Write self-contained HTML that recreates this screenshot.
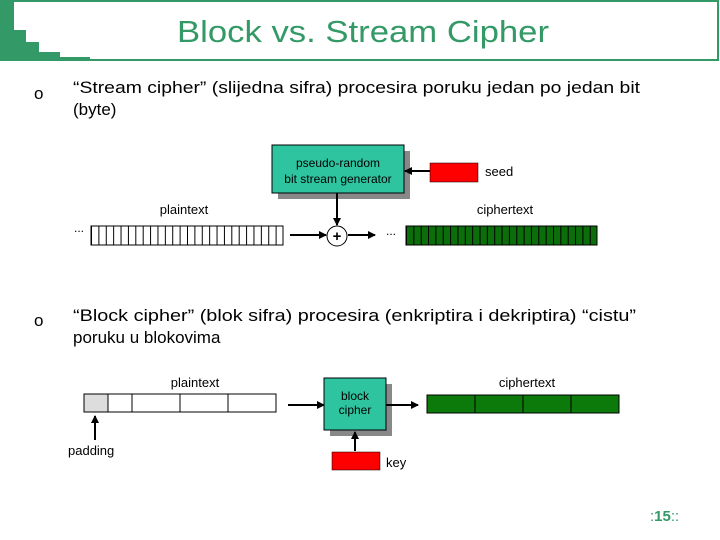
<!DOCTYPE html>
<html><head><meta charset="utf-8"><style>html,body{margin:0;padding:0;background:#fff}svg{display:block}</style></head>
<body>
<svg width="720" height="540" viewBox="0 0 720 540" xmlns="http://www.w3.org/2000/svg" font-family="Liberation Sans, sans-serif">
<defs>
<pattern id="pw" x="91" y="0" width="7.385" height="20" patternUnits="userSpaceOnUse"><rect width="7.385" height="20" fill="#fff"/><line x1="0.5" y1="0" x2="0.5" y2="20" stroke="#000" stroke-width="1"/></pattern>
<pattern id="pg" x="406" y="0" width="7.35" height="20" patternUnits="userSpaceOnUse"><rect width="7.35" height="20" fill="#0b6e0b"/><line x1="0.5" y1="0" x2="0.5" y2="20" stroke="#000" stroke-width="1"/></pattern>
<marker id="ar" markerWidth="8" markerHeight="8" refX="7" refY="4" orient="auto" markerUnits="userSpaceOnUse"><path d="M0,0 L8,4 L0,8 z" fill="#000"/></marker>
</defs>
<!-- title frame -->
<rect x="13" y="1" width="705" height="59" fill="none" stroke="#339966" stroke-width="2"/>
<path d="M0,0 H14 V30 H26 V42 H39 V52 H60 V57 H90 V61 H0 Z" fill="#339966"/>
<text x="363" y="42" font-size="31" fill="#339966" text-anchor="middle" textLength="372" lengthAdjust="spacingAndGlyphs">Block vs. Stream Cipher</text>
<!-- bullet 1 -->
<text x="34" y="99" font-size="17">o</text>
<text x="73" y="93" font-size="17" textLength="567" lengthAdjust="spacingAndGlyphs">“Stream cipher” (slijedna sifra) procesira poruku jedan po jedan bit</text>
<text x="73" y="115" font-size="17">(byte)</text>
<!-- stream diagram -->
<rect x="278" y="151" width="132" height="48" fill="#888"/>
<rect x="272" y="145" width="132" height="48" fill="#2ec4a0" stroke="#000" stroke-width="1"/>
<text x="338" y="167" font-size="12" text-anchor="middle">pseudo-random</text>
<text x="338" y="183" font-size="12" text-anchor="middle">bit stream generator</text>
<rect x="430" y="163" width="48" height="19" fill="#f00" stroke="#000" stroke-width="0.5"/>
<text x="485" y="176" font-size="13">seed</text>
<line x1="430" y1="171" x2="405" y2="171" stroke="#000" stroke-width="2" marker-end="url(#ar)"/>
<text x="184" y="214" font-size="13" text-anchor="middle">plaintext</text>
<text x="505" y="214" font-size="13" text-anchor="middle">ciphertext</text>
<text x="74" y="232" font-size="12">...</text>
<rect x="91" y="226" width="192" height="19" fill="url(#pw)" stroke="#000"/>
<line x1="290" y1="235" x2="326" y2="235" stroke="#000" stroke-width="2" marker-end="url(#ar)"/>
<line x1="337" y1="193" x2="337" y2="225" stroke="#000" stroke-width="2" marker-end="url(#ar)"/>
<circle cx="337" cy="236" r="10" fill="#fff" stroke="#000"/>
<text x="337" y="241" font-size="15" font-weight="bold" text-anchor="middle">+</text>
<line x1="348" y1="235" x2="375" y2="235" stroke="#000" stroke-width="2" marker-end="url(#ar)"/>
<text x="386" y="235" font-size="12">...</text>
<rect x="406" y="226" width="191" height="19" fill="url(#pg)" stroke="#000"/>
<!-- bullet 2 -->
<text x="34" y="326" font-size="17">o</text>
<text x="73" y="321" font-size="17" textLength="563" lengthAdjust="spacingAndGlyphs">“Block cipher” (blok sifra) procesira (enkriptira i dekriptira) “cistu”</text>
<text x="73" y="343" font-size="17">poruku u blokovima</text>
<!-- block diagram -->
<text x="195" y="387" font-size="13" text-anchor="middle">plaintext</text>
<text x="527" y="387" font-size="13" text-anchor="middle">ciphertext</text>
<rect x="84" y="394" width="24" height="18" fill="#ddd" stroke="#000"/>
<rect x="108" y="394" width="24" height="18" fill="#fff" stroke="#000"/>
<rect x="132" y="394" width="48" height="18" fill="#fff" stroke="#000"/>
<rect x="180" y="394" width="48" height="18" fill="#fff" stroke="#000"/>
<rect x="228" y="394" width="48" height="18" fill="#fff" stroke="#000"/>
<line x1="95" y1="440" x2="95" y2="416" stroke="#000" stroke-width="2" marker-end="url(#ar)"/>
<text x="68" y="455" font-size="13">padding</text>
<line x1="288" y1="405" x2="324" y2="405" stroke="#000" stroke-width="2" marker-end="url(#ar)"/>
<rect x="330" y="384" width="62" height="52" fill="#888"/>
<rect x="324" y="378" width="62" height="52" fill="#2ec4a0" stroke="#000"/>
<text x="355" y="400" font-size="12" text-anchor="middle">block</text>
<text x="355" y="414" font-size="12" text-anchor="middle">cipher</text>
<line x1="386" y1="405" x2="418" y2="405" stroke="#000" stroke-width="2" marker-end="url(#ar)"/>
<rect x="427" y="395" width="48" height="18" fill="#0b7a0b" stroke="#000"/>
<rect x="475" y="395" width="48" height="18" fill="#0b7a0b" stroke="#000"/>
<rect x="523" y="395" width="48" height="18" fill="#0b7a0b" stroke="#000"/>
<rect x="571" y="395" width="48" height="18" fill="#0b7a0b" stroke="#000"/>
<line x1="355" y1="451" x2="355" y2="432" stroke="#000" stroke-width="2" marker-end="url(#ar)"/>
<rect x="332" y="452" width="48" height="18" fill="#f00" stroke="#000" stroke-width="0.5"/>
<text x="386" y="467" font-size="13">key</text>
<!-- footer -->
<text x="650" y="521" font-size="15" fill="#339966">:<tspan font-weight="bold">15</tspan>::</text>
</svg>
</body></html>
